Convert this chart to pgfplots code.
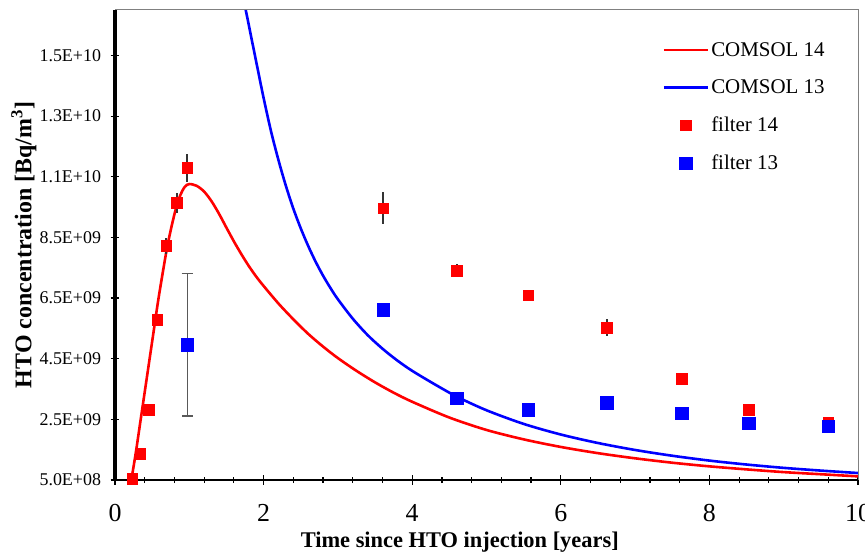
\documentclass[border=0pt]{standalone}
\usepackage{pgfplots}
\pgfplotsset{compat=1.18}
\usepackage{fontspec}
\setmainfont{Liberation Serif}
\definecolor{cred}{RGB}{255,0,0}
\definecolor{cblue}{RGB}{0,0,255}

\begin{document}
\begin{tikzpicture}
\useasboundingbox (0,0) rectangle (865bp,555bp);
\begin{axis}[
  at={(115bp,75bp)}, anchor=south west,
  scale only axis, width=743bp, height=470bp,
  xmin=0, xmax=10, ymin=0.5, ymax=16,
  axis x line*=bottom, axis y line*=left,
  x axis line style={line width=1.6bp, black},
  y axis line style={line width=4.5bp, black},
  xtick={0,2,4,6,8,10}, minor x tick num=4,
  ytick={0.5,2.5,4.5,6.5,8.5,10.5,12.5,14.5},
  yticklabels={5.0E+08,2.5E+09,4.5E+09,6.5E+09,8.5E+09,1.1E+10,1.3E+10,1.5E+10},
  /pgf/number format/assume math mode=true,
  tick align=center,
  major tick length=9bp, minor tick length=6bp,
  every tick/.style={black, line width=1.2bp},
  yticklabel style={font=\fontsize{18}{21}\selectfont, xshift=-6bp},
  xticklabel style={font=\fontsize{26}{29}\selectfont, yshift=-16bp},
  xlabel={\textbf{Time since HTO injection [years]}},
  ylabel={\textbf{HTO concentration [Bq/m\textsuperscript{3}]}},
  xlabel style={font=\fontsize{22.5}{26}\selectfont, at={(axis description cs:0.464,0)}, anchor=center, yshift=-62bp},
  ylabel style={font=\fontsize{24}{28}\selectfont, at={(axis description cs:-0.1225,0.5)}, anchor=center},
  clip mode=individual,
  legend image code/.code={\draw[mark repeat=2,mark phase=2,#1] plot coordinates {(0bp,0bp) (22bp,0bp) (44bp,0bp)};},
  legend style={draw=none, fill=none, font=\fontsize{21}{24}\selectfont, row sep=18bp,
    at={(rel axis cs:0.962,0.94)}, anchor=north east, cells={anchor=west}},
]
% COMSOL 14
\addplot[cred, line width=2.6bp, smooth, tension=0.5] table {
x y
0.22 0.5
0.28 1.4
0.34 2.4
0.40 3.4
0.46 4.4
0.52 5.4
0.58 6.4
0.64 7.3
0.70 8.15
0.76 8.85
0.82 9.45
0.88 9.9
0.94 10.17
1.00 10.26
1.10 10.20
1.20 10.01
1.30 9.69
1.40 9.28
1.50 8.82
1.60 8.37
1.70 7.95
1.80 7.56
1.90 7.21
2.00 6.90
2.20 6.32
2.40 5.80
2.60 5.32
2.80 4.90
3.00 4.52
3.25 4.10
3.50 3.72
3.75 3.38
4.00 3.08
4.50 2.56
5.00 2.15
5.50 1.84
6.00 1.59
6.50 1.385
7.00 1.215
7.50 1.07
8.00 0.95
8.50 0.85
9.00 0.76
9.50 0.69
10.00 0.62
};
\addlegendentry{COMSOL 14}
% COMSOL 13
\addplot[cblue, line width=2.6bp, smooth, tension=0.5] table {
x y
1.70 16.75
1.76 16.0
1.90 14.3
2.00 13.1
2.10 12.0
2.20 11.05
2.30 10.2
2.40 9.45
2.50 8.8
2.60 8.22
2.70 7.7
2.80 7.24
2.90 6.83
3.00 6.46
3.20 5.82
3.40 5.28
3.60 4.83
3.80 4.44
4.00 4.10
4.30 3.66
4.60 3.25
5.00 2.80
5.50 2.35
6.00 2.00
6.50 1.72
7.00 1.49
7.50 1.30
8.00 1.14
8.50 1.01
9.00 0.90
9.50 0.81
10.00 0.73
};
\addlegendentry{COMSOL 13}
% error bars filter 14
\addplot[only marks, mark=none, forget plot, error bars/.cd, y dir=both, y explicit,
  error mark=none, error bar style={draw=black!80, line width=2bp}]
  table[x=x, y=y, y error=e] {
x y e
0.69 8.22 0.27
0.83 9.65 0.33
0.97 10.79 0.47
3.61 9.47 0.52
4.60 7.41 0.22
5.56 6.60 0.10
6.62 5.53 0.27
};
% error bar filter 13
\addplot[only marks, mark=none, forget plot, error bars/.cd, y dir=both, y explicit,
  error mark=-,
  error bar style={draw=black!65, line width=1.1bp},
  error mark options={rotate=90, draw=black!65, line width=1.1bp, mark size=5.5bp}]
  table[x=x, y=y, y error=e] {
x y e
0.97 4.96 2.35
};
% filter 14
\addplot[only marks, mark=square*, mark size=5.3bp, mark options={fill=cred, draw=cred}] table {
x y
0.23 0.55
0.34 1.36
0.45 2.81
0.57 5.78
0.69 8.22
0.83 9.65
0.97 10.79
3.61 9.47
4.60 7.41
5.56 6.60
6.62 5.53
7.63 3.85
8.53 2.81
9.60 2.40
};
\addlegendentry{filter 14}
% filter 13
\addplot[only marks, mark=square*, mark size=6.3bp, mark options={fill=cblue, draw=cblue}] table {
x y
0.97 4.96
3.61 6.11
4.60 3.20
5.56 2.81
6.62 3.05
7.63 2.70
8.53 2.37
9.60 2.28
};
\addlegendentry{filter 13}
\draw[gray, line width=1bp] (rel axis cs:0,1) -- (rel axis cs:1,1) -- (rel axis cs:1,0);
\end{axis}
\end{tikzpicture}
\end{document}
